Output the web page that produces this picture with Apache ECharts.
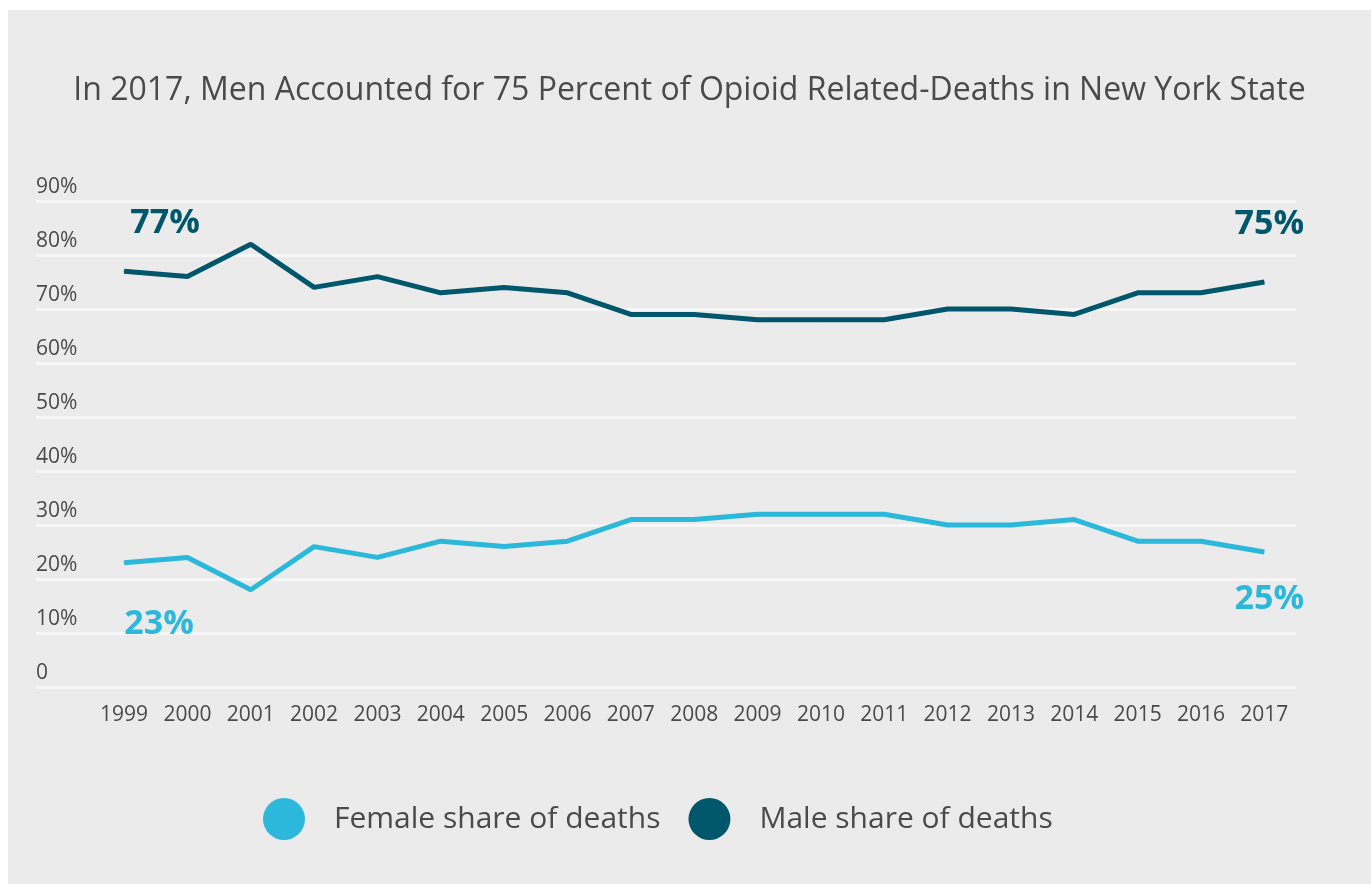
<!DOCTYPE html>
<html>
<head>
<meta charset="utf-8">
<script src="https://cdn.jsdelivr.net/npm/echarts@6/dist/echarts.min.js"></script>
<style>
  html, body { margin: 0; padding: 0; background: #ffffff; }
  #chart {
    position: absolute;
    left: 8px;
    top: 10px;
    width: 1363px;
    height: 874px;
    background: #ebebeb;
  }
</style>
</head>
<body>
<div id="chart"></div>
<script>
  // data
  const years = ['1999', '2000', '2001', '2002', '2003', '2004', '2005', '2006', '2007', '2008',
    '2009', '2010', '2011', '2012', '2013', '2014', '2015', '2016', '2017']
  const maleShare = [77, 76, 82, 74, 76, 73, 74, 73, 69, 69, 68, 68, 68, 70, 70, 69, 73, 73, 75]
  const femaleShare = [23, 24, 18, 26, 24, 27, 26, 27, 31, 31, 32, 32, 32, 30, 30, 31, 27, 27, 25]
  const yTicks = [0, 90, 10] // min, max, step

  const maleColor = '#00566a'
  const femaleColor = '#2bb8da'
  const textColor = '#4a4a4a'
  const font = '"Open Sans", "Noto Sans", sans-serif'

  // first and last points carry the big percent labels
  function withEndLabels (values, color, firstOffset, lastOffset) {
    return values.map(function (v, i) {
      if (i !== 0 && i !== values.length - 1) return v
      return {
        value: v,
        label: {
          show: true,
          position: 'inside',
          offset: i === 0 ? firstOffset : lastOffset,
          formatter: '{c}%',
          color: color,
          fontFamily: font,
          fontWeight: 'bold',
          fontSize: 34
        }
      }
    })
  }

  let chart = echarts.init(document.getElementById('chart'))
  chart.setOption({
    animation: false,
    title: {
      text: 'In 2017, Men Accounted for 75 Percent of Opioid Related-Deaths in New York State',
      left: 'center',
      top: 60,
      textStyle: {
        color: textColor,
        fontFamily: font,
        fontWeight: 'normal',
        fontSize: 32
      }
    },
    legend: {
      left: 250,
      top: 783,
      icon: 'circle',
      itemWidth: 42,
      itemHeight: 42,
      itemGap: 28,
      selectedMode: false,
      data: ['Female share of deaths', 'Male share of deaths'],
      textStyle: {
        color: textColor,
        fontFamily: font,
        fontSize: 30,
        padding: [0, 0, 0, 24]
      }
    },
    grid: [
      // grid 0 holds the lines, grid 1 only draws the wide gridlines and y labels
      { left: 84.4, right: 75, top: 191, bottom: 197 },
      { left: 28, right: 75, top: 191, bottom: 197 }
    ],
    xAxis: [{
      type: 'category',
      gridIndex: 0,
      data: years,
      boundaryGap: true,
      axisLine: { show: false },
      axisTick: { show: false },
      axisLabel: {
        margin: 18,
        color: textColor,
        fontFamily: font,
        fontSize: 21
      }
    }, {
      type: 'value',
      gridIndex: 1,
      show: false
    }],
    yAxis: [{
      type: 'value',
      gridIndex: 0,
      min: yTicks[0],
      max: yTicks[1],
      interval: yTicks[2],
      show: false
    }, {
      type: 'value',
      gridIndex: 1,
      min: yTicks[0],
      max: yTicks[1],
      interval: yTicks[2],
      axisLine: { show: false },
      axisTick: { show: false },
      splitLine: { lineStyle: { color: '#f7f7f7', width: 3 } },
      axisLabel: {
        inside: true,
        margin: 0,
        verticalAlign: 'bottom',
        padding: [0, 0, 3, 0],
        color: textColor,
        fontFamily: font,
        fontSize: 21,
        formatter: function (v) { return v === 0 ? '0' : v + '%' }
      }
    }],
    series: [{
      name: 'Female share of deaths',
      type: 'line',
      xAxisIndex: 0,
      yAxisIndex: 0,
      data: withEndLabels(femaleShare, femaleColor, [35, 62], [5, 47]),
      symbol: 'circle',
      symbolSize: 1,
      itemStyle: { color: femaleColor },
      lineStyle: { color: femaleColor, width: 5 },
      emphasis: { disabled: true },
      silent: true
    }, {
      name: 'Male share of deaths',
      type: 'line',
      xAxisIndex: 0,
      yAxisIndex: 0,
      data: withEndLabels(maleShare, maleColor, [41, -48], [5, -58]),
      symbol: 'circle',
      symbolSize: 1,
      itemStyle: { color: maleColor },
      lineStyle: { color: maleColor, width: 5 },
      emphasis: { disabled: true },
      silent: true
    }]
  })
</script>
</body>
</html>
